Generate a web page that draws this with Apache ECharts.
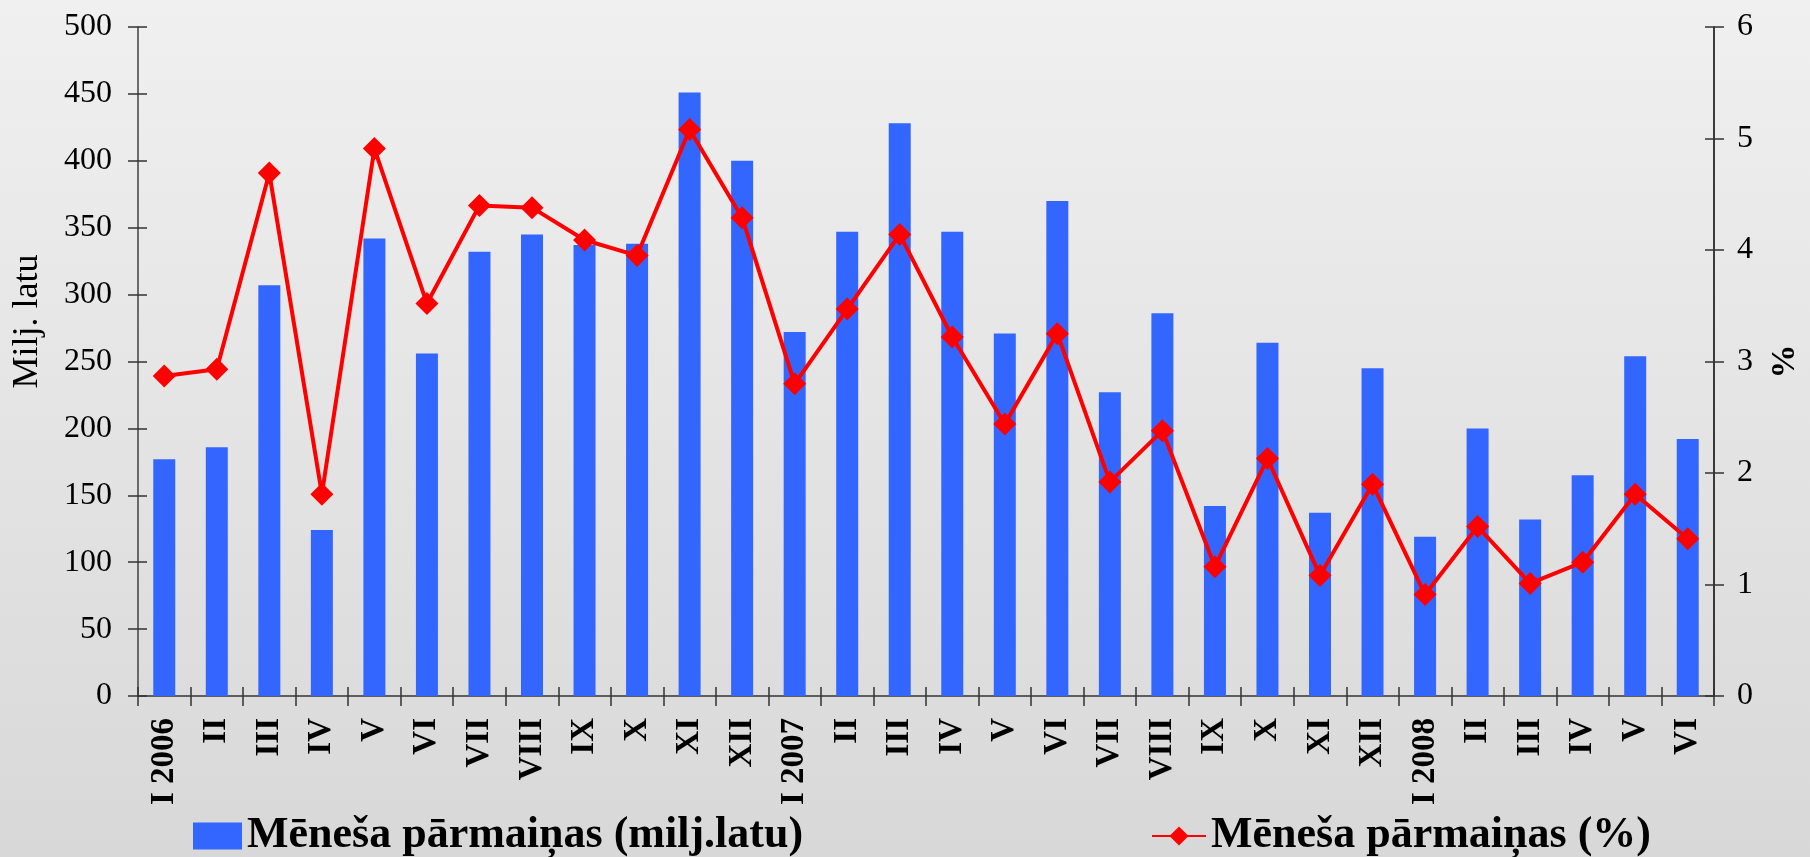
<!DOCTYPE html>
<html>
<head>
<meta charset="utf-8">
<script src="https://cdn.jsdelivr.net/npm/echarts@6/dist/echarts.min.js"></script>
<style>
  html, body { margin: 0; padding: 0; }
  #chart { width: 1810px; height: 857px; }
</style>
</head>
<body>
<div id="chart"></div>
<script>
// mēneši (kategorijas)
const months = ['I 2006', 'II', 'III', 'IV', 'V', 'VI', 'VII', 'VIII', 'IX', 'X', 'XI', 'XII',
  'I 2007', 'II', 'III', 'IV', 'V', 'VI', 'VII', 'VIII', 'IX', 'X', 'XI', 'XII',
  'I 2008', 'II', 'III', 'IV', 'V', 'VI']

// pārmaiņas milj. latu (stabiņi)
const changeMln = [177, 186, 307, 124, 342, 256, 332, 345, 337, 338, 451, 400,
  272, 347, 428, 347, 271, 370, 227, 286, 142, 264, 137, 245,
  119, 200, 132, 165, 254, 192]

// pārmaiņas % (līnija)
const changePct = [2.87, 2.93, 4.69, 1.81, 4.91, 3.52, 4.40, 4.38, 4.09, 3.95, 5.08, 4.29,
  2.80, 3.47, 4.14, 3.22, 2.44, 3.25, 1.92, 2.38, 1.16, 2.13, 1.08, 1.90,
  0.91, 1.52, 1.01, 1.20, 1.81, 1.41]

const barName = 'Mēneša pārmaiņas (milj.latu)'
const lineName = 'Mēneša pārmaiņas (%)'

const serif = "'Liberation Serif', 'Times New Roman', serif"

const chart = echarts.init(document.getElementById('chart'))

// ass ar krustojošām iedaļām: ārējās + iekšējās
const tickOut = { show: true, length: 10, lineStyle: { color: '#333', width: 1.5 } }
const tickIn = { show: true, inside: true, length: 9, lineStyle: { color: '#333', width: 1.5 } }

const option = {
  backgroundColor: {
    type: 'linear', x: 0, y: 0, x2: 0, y2: 1,
    colorStops: [
      { offset: 0, color: '#f0f0f0' },
      { offset: 1, color: '#d8d8d8' }
    ]
  },
  textStyle: { fontFamily: serif },
  grid: { left: 138, right: 83, top: 27, bottom: 161 },
  legend: [
    {
      data: [barName],
      left: 188,
      top: 809,
      icon: 'rect',
      itemWidth: 49,
      itemHeight: 27,
      textStyle: { fontFamily: serif, fontSize: 44, fontWeight: 'bold', color: '#000' }
    },
    {
      data: [lineName],
      left: 1146,
      top: 809,
      itemWidth: 54,
      itemHeight: 24,
      textStyle: { fontFamily: serif, fontSize: 44, fontWeight: 'bold', color: '#000' }
    }
  ],
  xAxis: [
    {
      type: 'category',
      data: months,
      axisLine: { lineStyle: { color: '#333', width: 1.5 } },
      axisTick: tickOut,
      axisLabel: {
        rotate: 90,
        margin: 22,
        interval: 0,
        color: '#000',
        fontFamily: serif,
        fontSize: 33,
        fontWeight: 'bold'
      }
    },
    {
      type: 'category',
      data: months,
      position: 'bottom',
      axisLine: { show: false },
      axisTick: tickIn,
      axisLabel: { show: false }
    }
  ],
  yAxis: [
    {
      type: 'value',
      min: 0,
      max: 500,
      interval: 50,
      name: 'Milj. latu',
      nameLocation: 'middle',
      nameRotate: 90,
      nameGap: 92,
      nameTextStyle: { fontFamily: serif, fontSize: 36, color: '#000', padding: [0, 0, 0, 80] },
      axisLine: { show: true, lineStyle: { color: '#404040', width: 1.5 } },
      axisTick: tickOut,
      axisLabel: { margin: 26, color: '#000', fontFamily: serif, fontSize: 32 },
      splitLine: { show: false }
    },
    {
      type: 'value',
      position: 'right',
      min: 0,
      max: 6,
      interval: 1,
      name: '%',
      nameLocation: 'middle',
      nameRotate: 90,
      nameGap: 54,
      nameTextStyle: { fontFamily: serif, fontSize: 34, fontWeight: 'bold', color: '#000' },
      axisLine: { show: true, lineStyle: { color: '#000', width: 1.5 } },
      axisTick: tickOut,
      axisLabel: { margin: 23, color: '#000', fontFamily: serif, fontSize: 32 },
      splitLine: { show: false }
    },
    {
      type: 'value',
      min: 0,
      max: 500,
      interval: 50,
      position: 'left',
      axisLine: { show: false },
      axisTick: tickIn,
      axisLabel: { show: false },
      splitLine: { show: false }
    },
    {
      type: 'value',
      position: 'right',
      min: 0,
      max: 6,
      interval: 1,
      axisLine: { show: false },
      axisTick: tickIn,
      axisLabel: { show: false },
      splitLine: { show: false }
    }
  ],
  series: [
    {
      name: barName,
      type: 'bar',
      xAxisIndex: 0,
      yAxisIndex: 0,
      barWidth: 22,
      data: changeMln,
      itemStyle: { color: '#3366ff' }
    },
    {
      name: lineName,
      type: 'line',
      xAxisIndex: 0,
      yAxisIndex: 1,
      data: changePct,
      symbol: 'diamond',
      symbolSize: 23,
      lineStyle: { color: '#ff0000', width: 4 },
      itemStyle: { color: '#ff0000' }
    }
  ]
}

chart.setOption(option)
</script>
</body>
</html>
